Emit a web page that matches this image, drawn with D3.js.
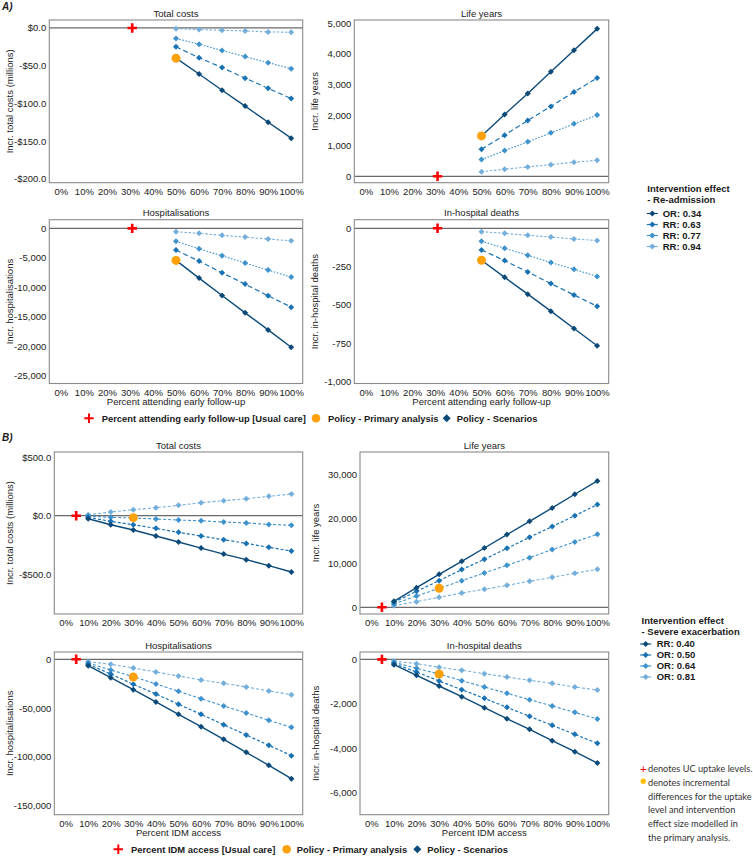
<!DOCTYPE html>
<html><head><meta charset="utf-8">
<script src="https://cdn.jsdelivr.net/npm/d3@7"></script>
<style>
body{margin:0;background:#fff}
svg{display:block}
text{font-family:"Liberation Sans",Arial,sans-serif}
</style>
</head><body>
<svg id="c" width="753" height="857"></svg>
<script>
// ---------------- DATA ----------------
const xTickValues = [0,10,20,30,40,50,60,70,80,90,100];
const uptakeA = [50,60,70,80,90,100];
const uptakeB = [10,20,30,40,50,60,70,80,90,100];
const effectsA = ["OR: 0.34","RR: 0.63","RR: 0.77","RR: 0.94"];
const effectsB = ["RR: 0.40","OR: 0.50","OR: 0.64","OR: 0.81"];
const ucUptakeA = 31;
const ucUptakeB = 4.7;
const primaryUptakeA = 50;
const primaryUptakeB = 30;

const costsA = [
  [-40,-61,-82.5,-103.5,-125,-146],
  [-25,-39.5,-52.5,-66.5,-80,-93.5],
  [-14,-21.5,-30,-38,-46,-54],
  [-1,-2.2,-3.1,-4,-5.3,-5.7]
];
const lifeA = [
  [1320,2020,2710,3420,4120,4820],
  [885,1345,1825,2285,2755,3215],
  [545,840,1125,1420,1715,2000],
  [150,230,305,380,460,525]
];
const hospA = [
  [-5440,-8450,-11400,-14350,-17250,-20190],
  [-3690,-5560,-7550,-9470,-11460,-13380],
  [-2210,-3470,-4660,-5900,-7090,-8280],
  [-580,-850,-1190,-1480,-1820,-2110]
];
const deathsA = [
  [-209,-320,-430,-541,-654,-767],
  [-141,-211,-285,-361,-435,-509],
  [-85,-130,-176,-224,-267,-315],
  [-22,-33,-46,-57,-70,-80]
];
const primaryA = [-40,1320,-5440,-209]; // costs, life years, hospitalisations, deaths

const costsB = [
  [-26,-77,-122,-173,-224,-276,-327,-375,-426,-480],
  [-14,-48,-77,-108,-142,-173,-205,-236,-270,-301],
  [-3,-14,-20,-28,-37,-43,-54,-62,-74,-82],
  [8,31,51,68,88,111,128,145,165,185]
];
const lifeB = [
  [1360,4450,7460,10400,13410,16430,19440,22460,25550,28560],
  [1130,3620,6030,8520,10850,13340,15830,18240,20720,23210],
  [750,2560,4300,6030,7760,9500,11230,13040,14770,16500],
  [380,1280,2260,3240,4070,4970,5880,6780,7690,8590]
];
const hospB = [
  [-6500,-18840,-31160,-43840,-56510,-69180,-82190,-95550,-108900,-122600],
  [-5140,-15070,-25690,-35620,-46230,-56510,-67120,-77740,-88360,-98970],
  [-3770,-10960,-17800,-25340,-32880,-40410,-47950,-55140,-62670,-69860],
  [-2400,-5140,-8900,-13010,-17120,-21230,-24660,-28430,-32530,-36300]
];
const deathsB = [
  [-240,-720,-1200,-1680,-2175,-2670,-3150,-3660,-4155,-4665],
  [-195,-570,-975,-1365,-1755,-2160,-2565,-2970,-3375,-3780],
  [-135,-405,-660,-960,-1245,-1530,-1815,-2100,-2385,-2685],
  [-75,-195,-360,-495,-645,-795,-945,-1080,-1245,-1380]
];
const primaryB = [-17,4300,-18150,-660];

const yTicksCostsA = [0,-50,-100,-150,-200];
const yTicksLifeA = [0,1000,2000,3000,4000,5000];
const yTicksHospA = [0,-5000,-10000,-15000,-20000,-25000];
const yTicksDeathsA = [0,-250,-500,-750,-1000];
const yTicksCostsB = [500,0,-500];
const yTicksLifeB = [0,10000,20000,30000];
const yTicksHospB = [0,-50000,-100000,-150000];
const yTicksDeathsB = [0,-2000,-4000,-6000];

const panelTitles = ["Total costs","Life years","Hospitalisations","In-hospital deaths"];
const yTitles = ["Incr. total costs (millions)","Incr. life years","Incr. hospitalisations","Incr. in-hospital deaths"];
const xTitleA = "Percent attending early follow-up";
const xTitleB = "Percent IDM access";
const legendTitleA = ["Intervention effect","- Re-admission"];
const legendTitleB = ["Intervention effect","- Severe exacerbation"];
const bottomLegendA = ["Percent attending early follow-up [Usual care]","Policy - Primary analysis","Policy - Scenarios"];
const bottomLegendB = ["Percent IDM access [Usual care]","Policy - Primary analysis","Policy - Scenarios"];
const footnote = ["denotes UC uptake levels.","denotes incremental","differences for the uptake","level and intervention","effect size modelled in","the primary analysis."];

// ---------------- STYLE ----------------
const colors = ["#0b4a78","#1872b3","#3f93cd","#74aedb"];
const dashA = [null,"5,3","1.6,1.6","2.4,1.8"];
const dashB = [null,"3,2","3,2","3,2"];
const widths = [1.4,1.2,1.1,1.1];
const FS = 9.5;
const textCol = "#1a1a1a";

const loc = d3.formatLocale({decimal:".",thousands:",",grouping:[3],currency:["$",""],minus:"-"});
const fmtComma = loc.format(",");
const fmtMoney = v => (v<0?"-":"") + "$" + Math.abs(v).toFixed(1);

const svg = d3.select("#c");
const diamond = "M0,-3L3,0L0,3L-3,0Z";
const cross = "M-4.7,0H4.7M0,-4.7V4.7";

function panel(cfg){
  const x = d3.scaleLinear().domain([-5,105]).range([cfg.x0,cfg.x1]);
  const y = d3.scaleLinear().domain(cfg.yDomain).range([cfg.y1,cfg.y0]);
  const g = svg.append("g");
  g.append("text").attr("x",(cfg.x0+cfg.x1)/2).attr("y",cfg.y0-3.5)
    .attr("text-anchor","middle").attr("font-size",FS).attr("fill",textCol).text(cfg.title);
  const ya = g.append("g").attr("transform",`translate(${cfg.x0},0)`)
    .call(d3.axisLeft(y).tickValues(cfg.yTicks).tickFormat(cfg.fmt).tickSize(0).tickPadding(3));
  ya.select(".domain").remove();
  ya.selectAll("text").attr("font-size",FS).attr("fill","#222").style("font-family",'"Liberation Sans",Arial,sans-serif');
  const xa = g.append("g").attr("transform",`translate(0,${cfg.y1})`)
    .call(d3.axisBottom(x).tickValues(xTickValues).tickFormat(d=>d+"%").tickSize(0).tickPadding(5.5));
  xa.select(".domain").remove();
  xa.selectAll("text").attr("font-size",FS).attr("fill","#222").style("font-family",'"Liberation Sans",Arial,sans-serif');
  g.append("text").attr("transform",`translate(${cfg.yTitleX},${(cfg.y0+cfg.y1)/2}) rotate(-90)`)
    .attr("text-anchor","middle").attr("dy","0.35em").attr("font-size",FS).attr("fill",textCol).text(cfg.yTitle);
  if(cfg.xTitle){
    g.append("text").attr("x",(cfg.x0+cfg.x1)/2).attr("y",cfg.y1+21.5)
      .attr("text-anchor","middle").attr("font-size",FS).attr("fill",textCol).text(cfg.xTitle);
  }
  g.append("line").attr("x1",cfg.x0).attr("x2",cfg.x1).attr("y1",y(0)).attr("y2",y(0))
    .attr("stroke","#6a6a6a").attr("stroke-width",1.2);
  const line = d3.line().x(d=>x(d[0])).y(d=>y(d[1]));
  for(let i=cfg.series.length-1;i>=0;i--){
    const pts = cfg.uptake.map((u,j)=>[u,cfg.series[i][j]]);
    g.append("path").attr("d",line(pts)).attr("fill","none").attr("stroke",colors[i])
      .attr("stroke-width",widths[i]).attr("stroke-dasharray",cfg.dash[i]);
  }
  for(let i=cfg.series.length-1;i>=0;i--){
    const pts = cfg.uptake.map((u,j)=>[u,cfg.series[i][j]]);
    g.selectAll(null).data(pts).enter().append("path").attr("d",diamond)
      .attr("transform",d=>`translate(${x(d[0])},${y(d[1])})`).attr("fill",colors[i]);
  }
  g.append("circle").attr("cx",x(cfg.primaryX)).attr("cy",y(cfg.primaryY)).attr("r",4.5).attr("fill","#ffa10a");
  g.append("path").attr("d",cross).attr("transform",`translate(${x(cfg.ucX)},${y(0)})`)
    .attr("stroke","#f00").attr("stroke-width",2.6).attr("fill","none");
  g.append("rect").attr("x",cfg.x0).attr("y",cfg.y0).attr("width",cfg.x1-cfg.x0).attr("height",cfg.y1-cfg.y0)
    .attr("fill","none").attr("stroke","#8a8a8a").attr("stroke-width",1.1);
}

const A_L = [49.3,302.7], A_R = [354.3,608.7];
const A_T = [20,182.7], A_B = [219.7,383.5];
const B_L = [54.3,302.7], B_R = [360,608.7];
const B_T = [452,614], B_B = [652,814.7];

const setA = [costsA,lifeA,hospA,deathsA];
const setB = [costsB,lifeB,hospB,deathsB];
const domA = [[-205,10.5],[-210,5110],[-26350,1470],[-1013,56]];
const domB = [[-838,543],[-1510,35100],[-159600,7500],[-6990,330]];
const ticksA = [yTicksCostsA,yTicksLifeA,yTicksHospA,yTicksDeathsA];
const ticksB = [yTicksCostsB,yTicksLifeB,yTicksHospB,yTicksDeathsB];
const fmts = [fmtMoney,fmtComma,fmtComma,fmtComma];

for(let k=0;k<4;k++){
  const col = k%2, row = Math.floor(k/2);
  const xa = col? A_R : A_L, ya = row? A_B : A_T;
  panel({x0:xa[0],x1:xa[1],y0:ya[0],y1:ya[1],yDomain:domA[k],yTicks:ticksA[k],fmt:fmts[k],
    title:panelTitles[k],yTitle:yTitles[k],yTitleX:col?315:10,xTitle:row?xTitleA:null,
    series:setA[k],uptake:uptakeA,dash:dashA,primaryX:primaryUptakeA,primaryY:primaryA[k],ucX:ucUptakeA});
  const xb = col? B_R : B_L, yb = row? B_B : B_T;
  panel({x0:xb[0],x1:xb[1],y0:yb[0],y1:yb[1],yDomain:domB[k],yTicks:ticksB[k],fmt:fmts[k],
    title:panelTitles[k],yTitle:yTitles[k],yTitleX:col?316:10,xTitle:row?xTitleB:null,
    series:setB[k],uptake:uptakeB,dash:dashB,primaryX:primaryUptakeB,primaryY:primaryB[k],ucX:ucUptakeB});
}

svg.append("text").attr("x",2).attr("y",10).attr("font-size",10).attr("font-weight","bold").attr("font-style","italic").attr("fill",textCol).text("A)");
svg.append("text").attr("x",2).attr("y",441).attr("font-size",10).attr("font-weight","bold").attr("font-style","italic").attr("fill",textCol).text("B)");

function sideLegend(tx,ty,titles,labels,kx,textX,itemY0){
  titles.forEach((t,i)=>svg.append("text").attr("x",tx).attr("y",ty+i*10.5).attr("dy","0.35em")
    .attr("font-size",FS).attr("font-weight","bold").attr("fill",textCol).text(t));
  labels.forEach((t,i)=>{
    const yy = itemY0+i*11;
    svg.append("line").attr("x1",kx-5.5).attr("x2",kx+5.5).attr("y1",yy).attr("y2",yy).attr("stroke",colors[i]).attr("stroke-width",1.2);
    svg.append("path").attr("d",diamond).attr("transform",`translate(${kx},${yy})`).attr("fill",colors[i]);
    svg.append("text").attr("x",textX).attr("y",yy).attr("dy","0.35em").attr("font-size",FS).attr("font-weight","bold").attr("fill",textCol).text(t);
  });
}
sideLegend(647.3,189,legendTitleA,effectsA,652.3,662.7,213.5);
sideLegend(641.5,620.7,legendTitleB,effectsB,645.7,656.7,644);

function bottomLegend(yy,crossX,labels,t0,dotX,t1,diaX,t2){
  svg.append("path").attr("d",cross).attr("transform",`translate(${crossX},${yy})`).attr("stroke","#f00").attr("stroke-width",2).attr("fill","none");
  svg.append("circle").attr("cx",dotX).attr("cy",yy).attr("r",4.3).attr("fill","#ffa10a");
  svg.append("path").attr("d","M0,-4L4,0L0,4L-4,0Z").attr("transform",`translate(${diaX},${yy})`).attr("fill",colors[0]);
  [t0,t1,t2].forEach((tx,i)=>svg.append("text").attr("x",tx).attr("y",yy).attr("dy","0.35em")
    .attr("font-size",9.4).attr("font-weight","bold").attr("fill",textCol).text(labels[i]));
}
bottomLegend(418.3,89,bottomLegendA,101.7,316,328,446.7,456.7);
bottomLegend(849.3,118.3,bottomLegendB,131,286.7,296.7,417.3,427.3);

const fy0 = 769, fdy = 13.7;
svg.append("text").attr("x",640).attr("y",fy0).attr("dy","0.35em").attr("font-size",11.5).attr("fill","#f00").style("font-family","Lato, sans-serif").text("+");
svg.append("circle").attr("cx",643.3).attr("cy",fy0+fdy-1.5).attr("r",2.7).attr("fill","#ffc000");
footnote.forEach((t,i)=>svg.append("text").attr("x",648).attr("y",fy0+i*fdy).attr("dy","0.35em")
  .attr("font-size",9.2).style("font-family","Lato, sans-serif").attr("fill","#333").text(t));
</script>
</body></html>
